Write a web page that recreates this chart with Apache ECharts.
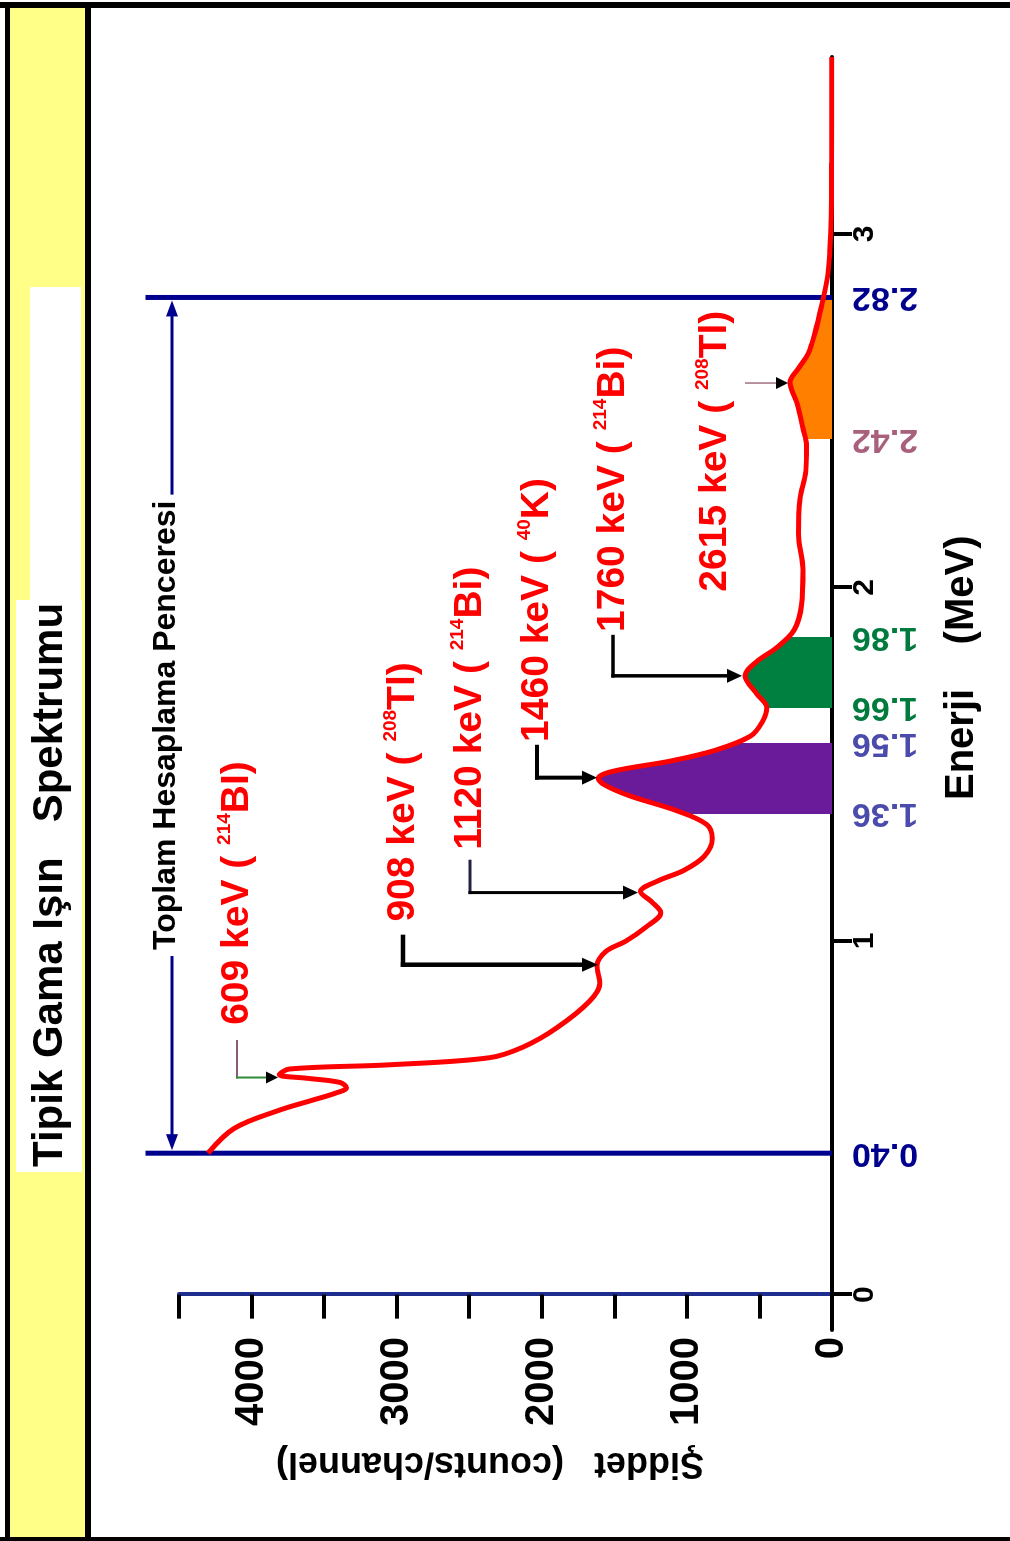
<!DOCTYPE html>
<html><head><meta charset="utf-8">
<script src="https://cdn.jsdelivr.net/npm/echarts@6/dist/echarts.min.js"></script>
<style>
html,body{margin:0;padding:0;width:1010px;height:1541px;overflow:hidden;background:#fff}
#chart{position:absolute;left:0;top:1541px;width:1541px;height:1010px;transform-origin:0 0;transform:rotate(-90deg)}
</style></head><body><div id="chart"></div>
<script>
// ---------------- DATA ----------------
const energyMeV = [0.40,0.47,0.52,0.55,0.57,0.585,0.600,0.612,0.622,0.638,0.650,0.670,0.700,0.755,0.83,0.88,0.93,0.97,1.00,1.04,1.08,1.11,1.14,1.17,1.20,1.24,1.29,1.33,1.37,1.41,1.44,1.46,1.48,1.51,1.54,1.58,1.62,1.66,1.70,1.75,1.79,1.83,1.88,1.95,2.05,2.15,2.25,2.33,2.40,2.45,2.52,2.58,2.62,2.66,2.72,2.80,2.88,2.95,3.05,3.20,3.50];
const countsPerChannel = [4300,4120,3820,3580,3420,3345,3390,3620,3810,3740,3050,2360,2130,1895,1670,1600,1620,1560,1420,1280,1180,1240,1320,1200,1020,880,825,865,1080,1390,1560,1610,1510,1100,800,560,480,450,520,600,520,380,260,210,200,230,220,180,175,200,240,290,230,165,117,70,30,15,5,3,2];
const energyTicks = [0,1,2,3];
const intensityMin = 0, intensityMax = 4500, intensityStep = 500;
const windowEdges = [0.40, 2.82];
const windowEdgeLabels = ['0.40', '2.82'];
const bandRanges = [[1.36,1.56],[1.66,1.86],[2.42,2.82]];
const bandEdgeLabels = [['1.36','1.56'],['1.66','1.86'],['2.42']];
const peakNames = ['609 keV','908 keV','1120 keV','1460 keV','1760 keV','2615 keV'];
const peakIsotopeMass = ['214','208','214','40','214','208'];
const peakIsotope = ['BI','Tl','Bi','K','Bi','Tl'];
const peakEnergy = [0.614,0.933,1.137,1.462,1.75,2.578];
const peakCounts = [3818,1613,1337,1620,620,303];
const titleText = 'Tipik Gama Işın   Spektrumu';
const xName = 'Enerji    (MeV)';
const yName = 'Şiddet   (counts/channel)';
const windowName = 'Toplam Hesaplama Penceresi';

// ---------------- LAYOUT / STYLE ----------------
const FONT = "'Liberation Sans', Arial, sans-serif";
const bandColors = ['#6a1b9a','#008040','#ff8000'];
const bandLabelColors = [['#4b4bab','#4b4bab'],['#007a3d','#007a3d'],['#a8607c']];
const windowColor = '#00008f';
const windowTop = 4730;       // top of the window lines (counts)
const windowArrowRow = 4549;  // row of the double arrow (counts)
const peakLabelLayout = [
  {textE:0.763, leadE:0.72,  rowI:4100, lw:2,   c1:'#8a5a7a', c2:'#2e8b3a', ah:[12,6]},
  {textE:1.055, leadE:1.018, rowI:2957, lw:4.5, c1:'#000', c2:'#000', ah:[16,7]},
  {textE:1.258, leadE:1.23,  rowI:2495, lw:3,   c1:'#222244', c2:'#000', ah:[15,7]},
  {textE:1.563, leadE:1.555, rowI:2033, lw:4,   c1:'#000', c2:'#000', ah:[15,7]},
  {textE:1.874, leadE:1.866, rowI:1509, lw:3.5, c1:'#000', c2:'#000', ah:[15,7]},
  {textE:1.988, leadE:null,  rowI:806,  lw:1.5, c1:'#a07080', c2:'#a07080', ah:[12,6], directFrom:600}
];

const curve = energyMeV.map((e,i)=>[e, countsPerChannel[i]]);

const el = document.getElementById('chart');
const chart = echarts.init(el, null, {renderer:'canvas', width:1541, height:1010});

const pieces = bandRanges.map((r,i)=>({gte:r[0], lte:r[1], color:bandColors[i]}));
const SMOOTH = 0.35;
const series = [
  {type:'line', name:'fill', data:curve, smooth:SMOOTH, symbol:'none',
   lineStyle:{width:0}, areaStyle:{opacity:1}, z:2, silent:true},
  {type:'line', name:'spectrum', data:curve, smooth:SMOOTH, symbol:'none',
   lineStyle:{color:'#ff0000', width:5}, z:5, silent:true}
];
windowEdges.forEach(e=>{
  series.push({type:'line', data:[[e,0],[e,windowTop]], symbol:'none', clip:false,
    lineStyle:{color:windowColor, width:5}, z:4, silent:true});
});

chart.setOption({
  animation:false,
  grid:{left:211, right:57, top:179, bottom:178},
  xAxis:{type:'value', min:-0.1, max:3.5,
    axisLine:{onZero:true, lineStyle:{color:'#000', width:4}},
    axisTick:{customValues:energyTicks, length:20, lineStyle:{color:'#000', width:4}},
    axisLabel:{customValues:energyTicks, margin:18, fontSize:30, fontWeight:'bold', color:'#000', fontFamily:FONT},
    splitLine:{show:false}},
  yAxis:{type:'value', min:intensityMin, max:intensityMax, interval:intensityStep,
    axisLine:{show:true, onZero:true, lineStyle:{color:'#1f2d8f', width:4}},
    axisTick:{show:true, length:24, lineStyle:{color:'#000', width:4}},
    axisLabel:{margin:7, fontSize:40, fontWeight:'bold', color:'#000', fontFamily:FONT,
      formatter: v => (v % 1000 === 0 ? String(v) : '')},
    splitLine:{show:false}},
  visualMap:{show:false, type:'piecewise', seriesIndex:0, dimension:0, pieces:pieces,
    outOfRange:{color:'rgba(255,255,255,0)'}},
  series:series
});

// ---------------- ANNOTATIONS ----------------
const P = (e,c) => chart.convertToPixel({xAxisIndex:0, yAxisIndex:0}, [e,c]);
const ctx = document.createElement('canvas').getContext('2d');
function tw(txt, font){ ctx.font = font; return ctx.measureText(txt).width; }
function rectP(px0,py0,px1,py1,fill,z){
  return {type:'rect', z:z===undefined?-10:z, silent:true,
    shape:{x:1541-py1, y:px0, width:py1-py0, height:px1-px0}, style:{fill:fill}};
}
const G = [];
G.push(rectP(8,6,88,1538,'#ffff88',-20));
G.push(rectP(30,287,81,602,'#ffffff',-15));
G.push(rectP(16,600,82,1172,'#ffffff',-15));
G.push(rectP(0,2,1010,8,'#000',-5));
G.push(rectP(0,1537,1010,1541,'#000',-5));
G.push(rectP(5,2,10,1541,'#000',-5));
G.push(rectP(85,2,91,1541,'#000',-5));

G.push({type:'text', x:374, y:50, z:60, silent:true,
  style:{text:titleText, font:'bold 42px '+FONT, fill:'#000', align:'left', verticalAlign:'middle'}});
G.push({type:'text', x:741, y:962, z:60, silent:true,
  style:{text:xName, font:'bold 40px '+FONT, fill:'#000', align:'left', verticalAlign:'middle'}});
G.push({type:'text', x:78, y:490, rotation:Math.PI/2, z:60, silent:true,
  style:{text:yName, font:'bold 36px '+FONT, fill:'#000', align:'center', verticalAlign:'middle'}});

const axisY = P(0,0)[1];
function edgeLabel(e, txt, color){
  const p = P(e,0);
  G.push({type:'text', x:p[0], y:axisY+53, rotation:Math.PI/2, z:60, silent:true,
    style:{text:txt, font:'bold 34px '+FONT, fill:color, align:'center', verticalAlign:'middle'}});
}
windowEdges.forEach((e,i)=>edgeLabel(e, windowEdgeLabels[i], windowColor));
bandRanges.forEach((r,i)=>{
  bandEdgeLabels[i].forEach((t,j)=>edgeLabel(r[j], t, bandLabelColors[i][j]));
});

(function(){
  const a = P(windowEdges[0], windowArrowRow), b = P(windowEdges[1], windowArrowRow);
  const font = 'bold 32px '+FONT;
  const w = tw(windowName, font);
  const cx = (a[0]+b[0])/2, y = a[1];
  G.push({type:'text', x:cx, y:y-6, z:60, silent:true,
    style:{text:windowName, font:font, fill:'#000', align:'center', verticalAlign:'middle'}});
  const x0 = a[0]+3, x1 = b[0]-3;
  G.push({type:'line', z:55, silent:true, shape:{x1:x0+12, y1:y, x2:cx-w/2-6, y2:y}, style:{stroke:windowColor, lineWidth:3}});
  G.push({type:'line', z:55, silent:true, shape:{x1:cx+w/2+6, y1:y, x2:x1-12, y2:y}, style:{stroke:windowColor, lineWidth:3}});
  G.push({type:'polygon', z:55, silent:true, shape:{points:[[x0,y],[x0+16,y-6],[x0+16,y+6]]}, style:{fill:windowColor}});
  G.push({type:'polygon', z:55, silent:true, shape:{points:[[x1,y],[x1-16,y-6],[x1-16,y+6]]}, style:{fill:windowColor}});
})();

peakNames.forEach((name,i)=>{
  const L = peakLabelLayout[i];
  const tp = P(L.textE, L.rowI);
  G.push({type:'text', x:tp[0], y:tp[1], z:60, silent:true,
    style:{text:'{m|'+name+' ( }{s|'+peakIsotopeMass[i]+'}{m|'+peakIsotope[i]+')}',
      align:'left', verticalAlign:'middle',
      rich:{m:{fontSize:39, fontWeight:'bold', fontFamily:FONT, fill:'#ff0000', lineHeight:44},
            s:{fontSize:19, fontWeight:'bold', fontFamily:FONT, fill:'#ff0000', lineHeight:24, verticalAlign:'top'}}}});
  const tip = P(peakEnergy[i], peakCounts[i]);
  const [al, ah] = L.ah;
  if (L.directFrom !== undefined) {
    const s = P(peakEnergy[i], L.directFrom);
    G.push({type:'line', z:55, silent:true, shape:{x1:s[0], y1:s[1], x2:tip[0], y2:tip[1]-al+2},
      style:{stroke:L.c1, lineWidth:L.lw}});
  } else {
    const s = P(L.leadE, L.rowI), c = P(peakEnergy[i], L.rowI);
    G.push({type:'line', z:55, silent:true, shape:{x1:s[0], y1:s[1], x2:c[0]-L.lw/2, y2:c[1]},
      style:{stroke:L.c1, lineWidth:L.lw}});
    G.push({type:'line', z:55, silent:true, shape:{x1:c[0], y1:c[1]-L.lw/2, x2:c[0], y2:tip[1]-al+2},
      style:{stroke:L.c2, lineWidth:L.lw}});
  }
  G.push({type:'polygon', z:56, silent:true,
    shape:{points:[[tip[0],tip[1]],[tip[0]-ah,tip[1]-al],[tip[0]+ah,tip[1]-al]]}, style:{fill:'#000'}});
});

chart.setOption({graphic:G});
</script>
</body></html>
